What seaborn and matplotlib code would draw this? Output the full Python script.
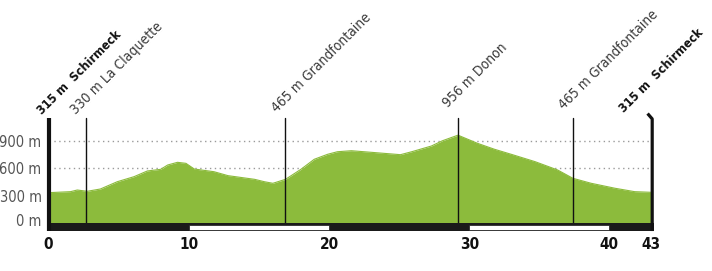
import matplotlib
matplotlib.use("Agg")
import matplotlib.pyplot as plt
from matplotlib.patches import Rectangle
from matplotlib.transforms import ScaledTranslation
import seaborn as sns
import pandas as pd

# ---- data ----
km = [0, 1.57, 2.05, 2.76, 3.7, 4.9, 6.1, 7.05, 8.0, 8.5, 9.2, 9.8, 10.4, 11.8, 12.8,
      14.7, 15.4, 16.0, 16.9, 18.0, 18.95, 19.9, 20.6, 21.6, 23.0, 25.1, 25.9, 27.3,
      28.1, 29.2, 30.6, 31.8, 33.0, 34.7, 36.3, 37.4, 38.7, 40.4, 41.8, 43.0]
elev = [335, 346, 364, 350, 375, 454, 509, 571, 589, 636, 665, 654, 592, 563, 520,
        480, 454, 437, 480, 589, 698, 752, 780, 791, 774, 748, 780, 842,
        900, 960, 871, 807, 752, 672, 582, 491, 437, 383, 346, 339]

marker_km = [2.7, 16.9, 29.2, 37.4]
marker_labels = ["330 m La Claquette", "465 m Grandfontaine", "956 m Donon", "465 m Grandfontaine"]
end_km = [0, 43]
end_labels = ["315 m  Schirmeck", "315 m  Schirmeck"]

y_ticks = [0, 300, 600, 900]
y_tick_labels = ["0 m", "300 m", "600 m", "900 m"]
x_ticks = [0, 10, 20, 30, 40, 43]
x_tick_labels = ["0", "10", "20", "30", "40", "43"]
white_segments = [(10, 20), (30, 40)]

# ---- style / layout ----
GREEN = "#8cbb3c"
TOP = 1147          # top of marker lines (m)
marker_offsets = [(-10, 3), (-8, 5), (-10, 10), (-9, 8)]
end_offsets = [(-6, 3), (-27, 5)]

sns.set_theme(style="white")
plt.rcParams["font.family"] = ["DejaVu Sans"]

fig = plt.figure(figsize=(7.12, 2.71), dpi=100)
H = 271.0
y_lo, y_hi = -85, 1200
ppm = 0.092  # pixels per metre
zero_px = 223.5
bot_px = zero_px - y_lo * ppm
top_px = zero_px - y_hi * ppm
ax = fig.add_axes([48.5 / 712, (H - bot_px) / H, 603 / 712, (bot_px - top_px) / H])
ax.set_xlim(0, 43)
ax.set_ylim(y_lo, y_hi)
for s in ax.spines.values():
    s.set_visible(False)

df = pd.DataFrame({"km": km, "elev": elev})

# grid lines
for yv in y_ticks[1:]:
    ax.plot([0, 43], [yv, yv], color="#9a9a9a", lw=1.0, ls=(0, (1, 2.5)), zorder=1)

sns.lineplot(data=df, x="km", y="elev", ax=ax, color=GREEN, lw=0.8, zorder=2)
ax.fill_between(df["km"], 0, df["elev"], color=GREEN, lw=0, zorder=2)

# bottom black bar with white segments
ax.add_patch(Rectangle((-0.13, -82), 43.3, 87, color="#1a1a1a", zorder=4, clip_on=False, lw=0))
for a, b in white_segments:
    ax.add_patch(Rectangle((a, -68), b - a, 56, facecolor="white", edgecolor="#1a1a1a",
                           lw=0.5, zorder=5))

# end bars
ax.plot([0, 0], [-82, TOP], color="#111111", lw=3.0, zorder=6, clip_on=False,
        solid_capstyle="butt")
ax.plot([42.72, 43.05, 43.05], [1195, TOP - 10, -82], color="#111111", lw=2.3, zorder=6,
        clip_on=False, solid_capstyle="butt", solid_joinstyle="round")

# marker lines and labels
for k, lab, (dx, dy) in zip(marker_km, marker_labels, marker_offsets):
    ax.plot([k, k], [0, TOP], color="#111111", lw=1.0, zorder=3)
    ax.annotate(lab, xy=(k, TOP), xytext=(dx, dy), textcoords="offset pixels",
                rotation=45, rotation_mode="anchor", ha="left", va="baseline",
                fontsize=10, fontstretch="condensed", color="#3a3a3a",
                annotation_clip=False)
for k, lab, (dx, dy) in zip(end_km, end_labels, end_offsets):
    ax.annotate(lab, xy=(k, TOP), xytext=(dx, dy), textcoords="offset pixels",
                rotation=45, rotation_mode="anchor", ha="left", va="baseline",
                fontsize=9.0, fontstretch="condensed", fontweight="bold", color="#111111",
                annotation_clip=False)

# ticks
ax.set_yticks(y_ticks)
ax.set_yticklabels(y_tick_labels, fontsize=10.5, color="#555555", fontstretch="condensed")
ax.set_xticks(x_ticks)
ax.set_xticklabels(x_tick_labels, fontsize=11, fontweight="bold", color="#111111",
                   fontstretch="condensed")
ax.tick_params(axis="y", length=0, pad=5)
ax.tick_params(axis="x", length=0, pad=4)
# lift the "0 m" label slightly above the base bar, as in the reference
zero_lab = ax.get_yticklabels()[0]
zero_lab.set_transform(zero_lab.get_transform() + ScaledTranslation(0, 4 / 100, fig.dpi_scale_trans))
ax.set_xlabel("")
ax.set_ylabel("")
ax.patch.set_alpha(0)

fig.savefig("out.png", dpi=100)
